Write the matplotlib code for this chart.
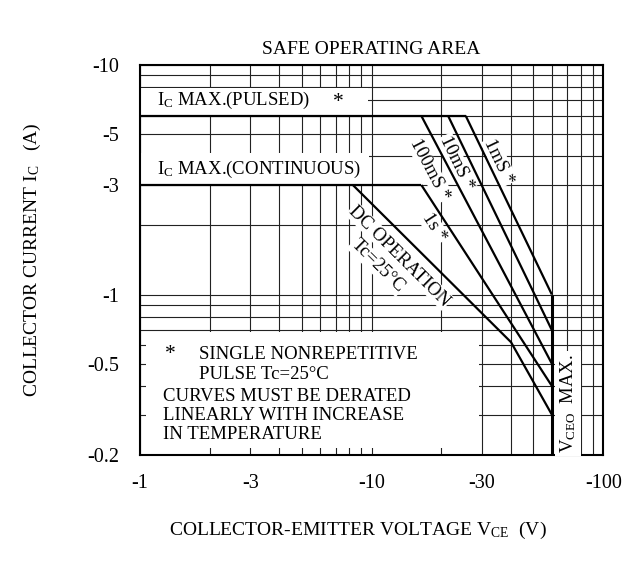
import matplotlib
matplotlib.use('Agg')
import matplotlib.pyplot as plt
from matplotlib.patches import Rectangle
from matplotlib.ticker import LogLocator, NullFormatter
import numpy as np

plt.rcParams['font.family'] = ['Liberation Serif', 'DejaVu Serif']
plt.rcParams['mathtext.fontset'] = 'custom'
plt.rcParams['mathtext.rm'] = 'Liberation Serif'
plt.rcParams['mathtext.it'] = 'Liberation Serif:italic'

# Datos (valores absolutos, V y A)
pulse_v = [1, 25.5]
pulse_i = [6, 6]
cont_v = [1, 16.4]
cont_i = [3, 3]
dc_v = [8.3, 40, 60]
dc_i = [3, 0.62, 0.3]
s1_v = [16.4, 60]
s1_i = [3, 0.4]
ms100_v = [16.4, 60]
ms100_i = [6, 0.5]
ms10_v = [21.4, 60]
ms10_i = [6, 0.7]
ms1_v = [25.5, 60]
ms1_i = [6, 1.0]
vceo_v = [60, 60]
vceo_i = [1.0, 0.2]

xticks = [1, 3, 10, 30, 100]
xticklabels = ['-1', '-3', '-10', '-30', '-100']
yticks = [0.2, 0.5, 1, 3, 5, 10]
yticklabels = ['-0.2', '-0.5', '-1', '-3', '-5', '-10']

fig = plt.figure(figsize=(6.39, 5.67), dpi=100)
ax = fig.add_axes([0.219, 0.1975, 0.725, 0.688])

ax.set_xscale('log')
ax.set_yscale('log')
ax.set_xlim(1, 100)
ax.set_ylim(0.2, 10)

ax.set_xticks(xticks)
ax.set_xticklabels(xticklabels)
ax.set_yticks(yticks)
ax.set_yticklabels(yticklabels)
ax.xaxis.set_minor_locator(LogLocator(base=10, subs=range(2, 10)))
ax.yaxis.set_minor_locator(LogLocator(base=10, subs=range(2, 10)))
ax.xaxis.set_minor_formatter(NullFormatter())
ax.yaxis.set_minor_formatter(NullFormatter())
ax.tick_params(which='both', length=0, labelsize=14.5)
ax.tick_params(axis='x', pad=14)
ax.tick_params(axis='y', pad=15)

ax.set_axisbelow(True)
ax.grid(which='both', color='#222222', linewidth=0.8)
for s in ax.spines.values():
    s.set_linewidth(1.5)

# Cajas blancas de los textos
ax.add_patch(Rectangle((1, 6), 9.66 - 1, 7.9 - 6, facecolor='white', edgecolor='none', zorder=2))
ax.add_patch(Rectangle((1, 3), 9.7 - 1, 4.15 - 3, facecolor='white', edgecolor='none', zorder=2))
ax.add_patch(Rectangle((1.06, 0.215), 29 - 1.06, 0.69 - 0.215, facecolor='white', edgecolor='none', zorder=2))

# Curvas
lw = 1.6
for v, i in [(pulse_v, pulse_i), (cont_v, cont_i), (dc_v, dc_i), (s1_v, s1_i),
             (ms100_v, ms100_i), (ms10_v, ms10_i), (ms1_v, ms1_i)]:
    ax.plot(v, i, color='black', linewidth=lw, zorder=5, solid_capstyle='butt')
ax.plot(vceo_v, vceo_i, color='black', linewidth=2.2, zorder=5, solid_capstyle='butt')


def angulo(v, i):
    p = ax.transData.transform(np.column_stack([v[:2], i[:2]]))
    d = p[1] - p[0]
    return np.degrees(np.arctan2(d[1], d[0]))


box = dict(facecolor='white', edgecolor='none', pad=0.5)
fs = 13.5

ax.text(1.18, 7.0, 'I$_{\\mathrm{C}}$ MAX.(PULSED)', fontsize=fs, va='center', ha='left', zorder=3)
ax.text(7.2, 6.85, '*', fontsize=fs + 2, va='center', ha='center', zorder=3)
ax.text(1.18, 3.5, 'I$_{\\mathrm{C}}$ MAX.(CONTINUOUS)', fontsize=fs, va='center', ha='left', zorder=3)

ax.text(35.5, 3.8, '1mS *', fontsize=fs, rotation=angulo(ms1_v, ms1_i), rotation_mode='anchor',
        ha='center', va='center', bbox=box, zorder=4)
ax.text(23.2, 3.75, '10mS *', fontsize=fs, rotation=angulo(ms10_v, ms10_i), rotation_mode='anchor',
        ha='center', va='center', bbox=box, zorder=4)
ax.text(17.8, 3.5, '100mS *', fontsize=fs, rotation=angulo(ms100_v, ms100_i), rotation_mode='anchor',
        ha='center', va='center', bbox=box, zorder=4)
ax.text(18.6, 1.95, '1s *', fontsize=fs, rotation=angulo(s1_v, s1_i), rotation_mode='anchor',
        ha='center', va='center', bbox=box, zorder=4)
ax.text(13.2, 1.47, 'DC OPERATION', fontsize=fs, rotation=angulo(dc_v, dc_i), rotation_mode='anchor',
        ha='center', va='center', bbox=box, zorder=4)
ax.text(10.6, 1.33, 'Tc=25°C', fontsize=fs, rotation=angulo(dc_v, dc_i), rotation_mode='anchor',
        ha='center', va='center', bbox=box, zorder=4)
ax.text(70.5, 0.335, 'V$_{\\mathrm{CEO}}$  MAX.', fontsize=fs, rotation=90, ha='center', va='center',
        bbox=dict(facecolor='white', edgecolor='none', pad=2), zorder=4)

# Notas
ax.text(0.065, 0.258, '*', fontsize=fs + 2, transform=ax.transAxes, va='center', ha='center', zorder=3)
ax.text(0.127, 0.258, 'SINGLE NONREPETITIVE', fontsize=fs, transform=ax.transAxes, va='center', zorder=3)
ax.text(0.127, 0.206, 'PULSE Tc=25°C', fontsize=fs, transform=ax.transAxes, va='center', zorder=3)
ax.text(0.05, 0.150, 'CURVES MUST BE DERATED', fontsize=fs, transform=ax.transAxes, va='center', zorder=3)
ax.text(0.05, 0.101, 'LINEARLY WITH INCREASE', fontsize=fs, transform=ax.transAxes, va='center', zorder=3)
ax.text(0.05, 0.052, 'IN TEMPERATURE', fontsize=fs, transform=ax.transAxes, va='center', zorder=3)

# Titulo y ejes
ax.set_title('SAFE OPERATING AREA', fontsize=14, pad=8)
ax.set_xlabel('COLLECTOR-EMITTER VOLTAGE V$_{\\mathrm{CE}}$  (V)', fontsize=14)
ax.set_ylabel('COLLECTOR CURRENT I$_{\\mathrm{C}}$   (A)', fontsize=14)
ax.xaxis.set_label_coords(0.47, -0.165)
ax.yaxis.set_label_coords(-0.21, 0.5)

fig.savefig('out.png', dpi=100)
